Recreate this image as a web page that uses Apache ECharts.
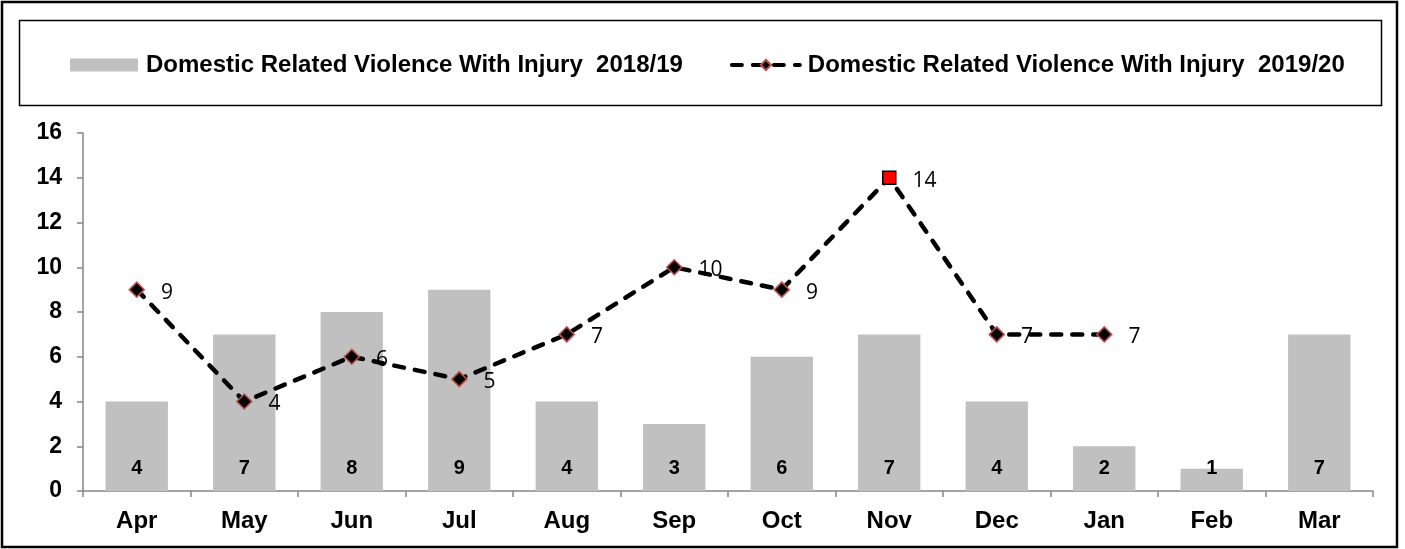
<!DOCTYPE html>
<html>
<head>
<meta charset="utf-8">
<script src="https://cdn.jsdelivr.net/npm/echarts@6/dist/echarts.min.js"></script>
<style>
  html, body { margin: 0; padding: 0; background: #fff; }
  #chart { width: 1405px; height: 549px; }
</style>
</head>
<body>
<div id="chart"></div>
<script>
// data
var months = ['Apr', 'May', 'Jun', 'Jul', 'Aug', 'Sep', 'Oct', 'Nov', 'Dec', 'Jan', 'Feb', 'Mar'];
var lastYear = [4, 7, 8, 9, 4, 3, 6, 7, 4, 2, 1, 7];
var thisYear = [9, 4, 6, 5, 7, 10, 9, 14, 7, 7, null, null];
var highlightMonth = 'Nov';
var barName = 'Domestic Related Violence With Injury  2018/19';
var lineName = 'Domestic Related Violence With Injury  2019/20';

var axisGrey = '#868686';

var lineData = thisYear.map(function (v, i) {
  if (months[i] === highlightMonth) {
    return {
      value: v,
      symbol: 'rect',
      symbolSize: 13,
      itemStyle: { color: '#ff0000', borderColor: '#000', borderWidth: 1.5 }
    };
  }
  return v;
});

var chart = echarts.init(document.getElementById('chart'));

var option = {
  animation: false,
  graphic: [
    { // outer frame
      type: 'rect',
      shape: { x: 2, y: 2, width: 1395, height: 545 },
      style: { fill: 'none', stroke: '#000', lineWidth: 2.5 },
      silent: true
    },
    { // legend frame
      type: 'rect',
      shape: { x: 19.5, y: 20.5, width: 1362, height: 85 },
      style: { fill: 'none', stroke: '#000', lineWidth: 1.5 },
      silent: true
    }
  ],
  legend: {
    left: 65,
    top: 48,
    itemWidth: 68,
    itemHeight: 13,
    itemGap: 47,
    textStyle: {
      fontFamily: 'Liberation Sans',
      fontWeight: 'bold',
      fontSize: 24,
      color: '#000',
      padding: [0, 0, 0, 3]
    },
    data: [
      { name: barName, icon: 'rect' },
      { name: lineName, lineStyle: { width: 4 } }
    ]
  },
  grid: { left: 83, right: 32, top: 133, bottom: 58, containLabel: false },
  xAxis: {
    type: 'category',
    data: months,
    axisLine: { lineStyle: { color: axisGrey, width: 1.5 } },
    axisTick: { show: true, length: 6, lineStyle: { color: axisGrey, width: 1.5 } },
    axisLabel: {
      fontFamily: 'Liberation Sans',
      fontWeight: 'bold',
      fontSize: 24,
      color: '#000',
      margin: 18
    }
  },
  yAxis: {
    type: 'value',
    min: 0,
    max: 16,
    interval: 2,
    splitLine: { show: false },
    axisLine: { show: true, lineStyle: { color: axisGrey, width: 1.5 } },
    axisTick: { show: true, length: 6, lineStyle: { color: axisGrey, width: 1.5 } },
    axisLabel: {
      fontFamily: 'Liberation Sans',
      fontWeight: 'bold',
      fontSize: 23,
      color: '#000',
      margin: 21
    }
  },
  series: [
    {
      name: barName,
      type: 'bar',
      data: lastYear,
      barCategoryGap: '42%',
      itemStyle: { color: '#C0C0C0' },
      label: {
        show: true,
        position: 'insideBottom',
        distance: 13,
        fontFamily: 'Liberation Sans',
        fontWeight: 'bold',
        fontSize: 20,
        color: '#000'
      },
      z: 1
    },
    {
      name: lineName,
      type: 'line',
      data: lineData,
      connectNulls: false,
      symbol: 'diamond',
      symbolSize: 15,
      itemStyle: { color: '#000', borderColor: '#C0504D', borderWidth: 1.5 },
      lineStyle: { color: '#000', width: 4.5, type: [10, 11], cap: 'round' },
      label: {
        show: true,
        position: 'right',
        distance: 16,
        offset: [0, 3],
        fontFamily: 'Open Sans',
        fontSize: 21,
        color: '#000'
      },
      z: 3
    }
  ]
};

chart.setOption(option);
</script>
</body>
</html>
